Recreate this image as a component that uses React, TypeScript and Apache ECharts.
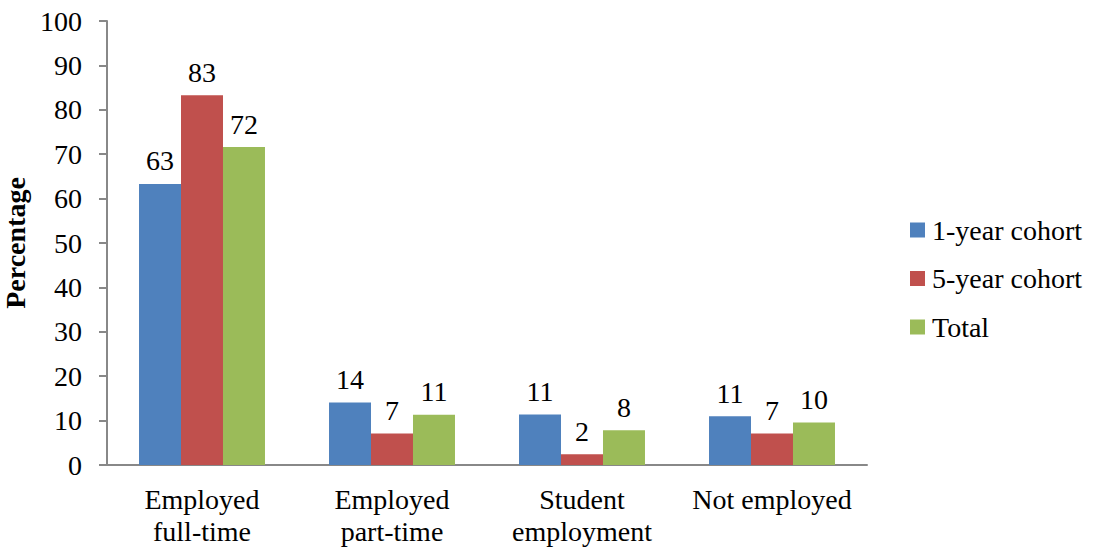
import React, { useEffect, useRef } from "react";
import * as echarts from "echarts";

const categories = ["Employed\nfull-time", "Employed\npart-time", "Student\nemployment", "Not employed"];
const seriesNames = ["1-year cohort", "5-year cohort", "Total"];
const oneYear = [63.3, 14.1, 11.4, 11.0];
const fiveYear = [83.3, 7.1, 2.4, 7.1];
const total = [71.6, 11.3, 7.8, 9.6];
const colors = ["#4F81BD", "#C0504D", "#9BBB59"];
const yTicks = { min: 0, max: 100, interval: 10 };

const FONT = "Liberation Serif";
const FS = 28;

function buildOption() {
  const values = [oneYear, fiveYear, total];
  return {
    animation: false,
    grid: { left: 107, top: 21, right: 226, bottom: 83, containLabel: false, outerBoundsMode: "none" },
    legend: {
      orient: "vertical",
      left: 905,
      top: 211,
      itemWidth: 15,
      itemHeight: 15,
      itemGap: 20.5,
      icon: "rect",
      textStyle: { fontFamily: FONT, fontSize: FS, color: "#000", padding: [0, 0, 0, 2] },
      data: seriesNames,
    },
    xAxis: {
      type: "category",
      data: categories,
      axisLine: { lineStyle: { color: "#888888", width: 2 } },
      axisTick: { show: false },
      axisLabel: { fontFamily: FONT, fontSize: FS, color: "#000", margin: 18, lineHeight: 32, interval: 0 },
    },
    yAxis: {
      type: "value",
      min: yTicks.min,
      max: yTicks.max,
      interval: yTicks.interval,
      name: "Percentage",
      nameLocation: "middle",
      nameGap: 65,
      nameTextStyle: { fontFamily: FONT, fontSize: FS, fontWeight: "bold", color: "#000" },
      axisLine: { show: true, lineStyle: { color: "#888888", width: 2 } },
      axisTick: { show: true, length: 8, lineStyle: { color: "#888888", width: 2 } },
      splitLine: { show: false },
      axisLabel: { fontFamily: FONT, fontSize: FS, color: "#000", margin: 25 },
    },
    series: seriesNames.map((name, i) => ({
      name,
      type: "bar",
      data: values[i],
      barGap: "0%",
      barCategoryGap: "33.7%",
      itemStyle: { color: colors[i] },
      label: {
        show: true,
        position: "top",
        distance: 9,
        fontFamily: FONT,
        fontSize: FS,
        color: "#000",
        formatter: (p: any) => String(Math.round(p.value)),
      },
    })),
  };
}

export default function App() {
  const ref = useRef<HTMLDivElement>(null);
  useEffect(() => {
    if (!ref.current) return;
    const chart = echarts.init(ref.current, undefined, { renderer: "svg" });
    chart.setOption(buildOption() as any);
    let disposed = false;
    const redraw = () => {
      if (disposed) return;
      chart.clear();
      chart.setOption(buildOption() as any);
    };
    const timers = [setTimeout(redraw, 60), setTimeout(redraw, 300)];
    if ((document as any).fonts && (document as any).fonts.ready) {
      (document as any).fonts.ready.then(redraw);
    }
    return () => {
      disposed = true;
      timers.forEach((t) => clearTimeout(t));
      chart.dispose();
    };
  }, []);
  return (
    <div>
      <span
        aria-hidden="true"
        style={{ position: "absolute", left: 0, top: 0, fontFamily: FONT, fontSize: 28, opacity: 0, pointerEvents: "none" }}
      >
        0<b>0</b>
      </span>
      <div ref={ref} style={{ width: 1093, height: 548, position: "absolute", left: 0, top: 0 }} />
    </div>
  );
}
